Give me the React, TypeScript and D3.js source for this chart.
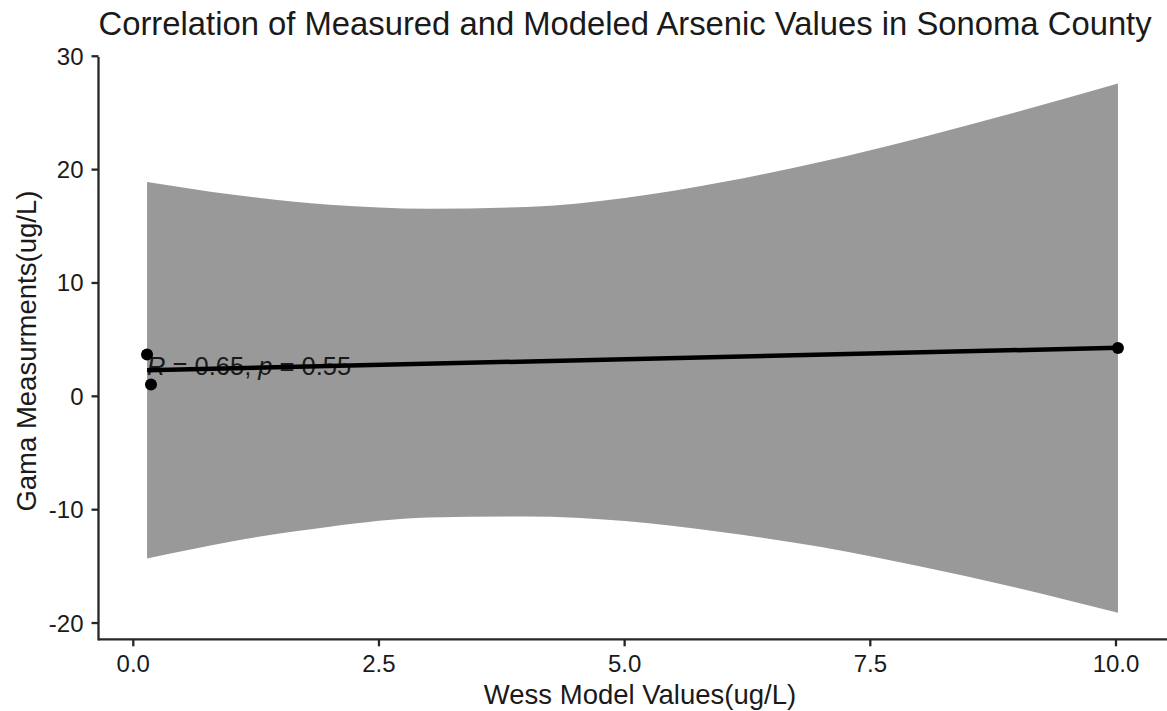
import React from "react";
import * as d3 from "d3";

// ---- data ----
const pointX = [0.14, 0.18, 10.02];
const pointY = [3.7, 1.05, 4.26];

const fitX = [0.14, 10.02];
const fitY = [2.3, 4.28];

const bandX = [0.14, 1, 2, 3, 4, 5, 6, 7, 8, 9, 10.02];
const bandUpper = [18.9, 17.8, 16.9, 16.55, 16.7, 17.5, 18.9, 20.7, 22.8, 25.1, 27.6];
const bandLower = [-14.3, -12.8, -11.5, -10.7, -10.6, -11.0, -12.0, -13.3, -15.0, -16.9, -19.1];

const xTicks = [0, 2.5, 5, 7.5, 10];
const yTicks = [-20, -10, 0, 10, 20, 30];

const titleText = "Correlation of Measured and Modeled Arsenic Values in Sonoma County";
const xTitle = "Wess Model Values(ug/L)";
const yTitle = "Gama Measurments(ug/L)";
const corR = "0.65";
const corP = "0.55";

const W = 1167;
const H = 711;
const FONT = "'Liberation Sans', Arial, Helvetica, sans-serif";

export default function App() {
  const panel = { left: 98.5, right: 1166.5, top: 57, bottom: 639.3 };

  const xMin = d3.min(pointX)!;
  const xMax = d3.max(pointX)!;
  const xPad = (xMax - xMin) * 0.05;
  const yMin = Math.min(d3.min(bandLower)!, d3.min(pointY)!);
  const yMax = Math.max(d3.max(bandUpper)!, d3.max(pointY)!);
  const yPad = (yMax - yMin) * 0.05;

  const x = d3.scaleLinear().domain([xMin - xPad, xMax + xPad]).range([panel.left, panel.right]);
  const y = d3.scaleLinear().domain([yMin - yPad, yMax + yPad]).range([panel.bottom, panel.top]);

  const bandData = bandX.map((v, i) => ({ x: v, lo: bandLower[i], hi: bandUpper[i] }));
  const area = d3
    .area<{ x: number; lo: number; hi: number }>()
    .x((d) => x(d.x))
    .y0((d) => y(d.lo))
    .y1((d) => y(d.hi))
    .curve(d3.curveMonotoneX);

  const line = d3
    .line<number>()
    .x((_, i) => x(fitX[i]))
    .y((d) => y(d));

  const tickLen = 7;
  const axisColor = "#262626";
  const textColor = "#1a1a1a";
  const cy = (panel.top + panel.bottom) / 2;

  return (
    <svg
      width={W}
      height={H}
      style={{ position: "absolute", left: 0, top: 0, background: "#fff", display: "block" }}
      fontFamily={FONT}
    >
      <rect x={0} y={0} width={W} height={H} fill="#fff" />
      {/* confidence band */}
      <path d={area(bandData) || ""} fill="#999999" />
      {/* correlation label */}
      <text x={x(xMin)} y={y(1.87)} fontSize={25.5} fill={textColor}>
        <tspan fontStyle="italic">R</tspan>
        <tspan>{` = ${corR}, `}</tspan>
        <tspan fontStyle="italic">p</tspan>
        <tspan>{` = ${corP}`}</tspan>
      </text>
      {/* fit line */}
      <path d={line(fitY) || ""} fill="none" stroke="#000" strokeWidth={4.5} strokeLinecap="butt" />
      {/* points */}
      {pointX.map((v, i) => (
        <circle key={i} cx={x(v)} cy={y(pointY[i])} r={6} fill="#000" />
      ))}
      {/* axes */}
      <line x1={panel.left} x2={panel.right + 1} y1={panel.bottom} y2={panel.bottom} stroke={axisColor} strokeWidth={2.3} />
      <line x1={panel.left} x2={panel.left} y1={panel.top} y2={panel.bottom + 1.1} stroke={axisColor} strokeWidth={2.3} />
      {xTicks.map((t) => (
        <g key={"x" + t}>
          <line x1={x(t)} x2={x(t)} y1={panel.bottom} y2={panel.bottom + tickLen} stroke={axisColor} strokeWidth={2.3} />
          <text x={x(t)} y={672} textAnchor="middle" fontSize={24} fill={textColor}>
            {d3.format(".1f")(t)}
          </text>
        </g>
      ))}
      {yTicks.map((t) => (
        <g key={"y" + t}>
          <line x1={panel.left - tickLen} x2={panel.left} y1={y(t)} y2={y(t)} stroke={axisColor} strokeWidth={2.3} />
          <text x={panel.left - 15} y={y(t)} textAnchor="end" dominantBaseline="central" fontSize={24} fill={textColor}>
            {t}
          </text>
        </g>
      ))}
      {/* titles */}
      <text x={panel.left} y={35} fontSize={32.8} fill={textColor}>
        {titleText}
      </text>
      <text x={640} y={704} textAnchor="middle" fontSize={27.5} fill={textColor}>
        {xTitle}
      </text>
      <text
        transform={`translate(35.7, ${cy + 3}) rotate(-90)`}
        textAnchor="middle"
        fontSize={27.5}
        fill={textColor}
      >
        {yTitle}
      </text>
    </svg>
  );
}
